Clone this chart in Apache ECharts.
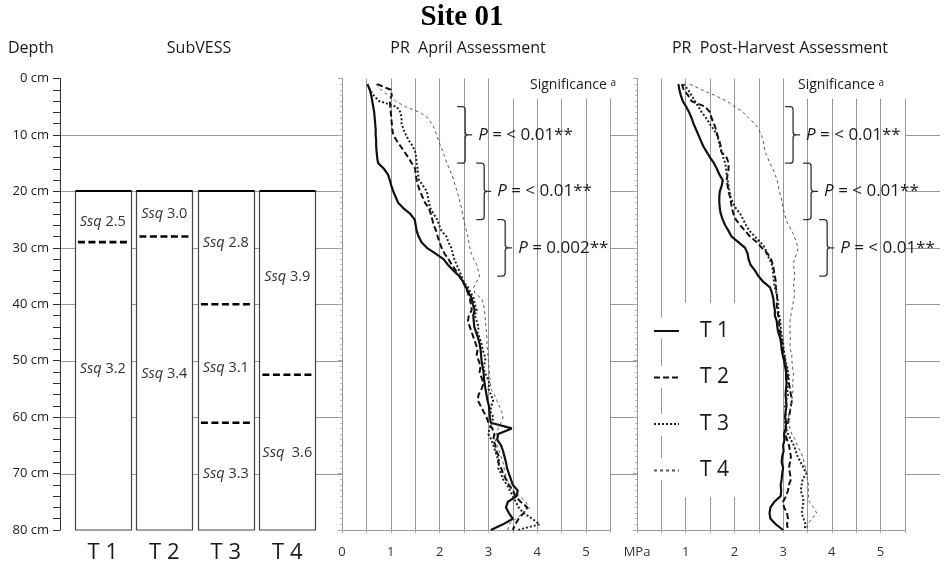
<!DOCTYPE html>
<html>
<head>
<meta charset="utf-8">
<script src="https://cdn.jsdelivr.net/npm/echarts@6/dist/echarts.min.js"></script>
<style>
  html, body { margin: 0; padding: 0; background: #fff; }
  #chart { width: 952px; height: 567px; }
</style>
</head>
<body>
<div id="chart"></div>
<script>
// ---- Depth of each penetrometer reading (cm) ----
const depthCm = [1,2,3,4,5,6,7,8,9,10,11,12,13,14,15,16,17,18,19,20,
  21,22,23,24,25,26,27,28,29,30,31,32,33,34,35,36,37,38,39,40,
  41,42,43,44,45,46,47,48,49,50,51,52,53,54,55,56,57,58,59,60,
  61,62,63,64,65,66,67,68,69,70,71,72,73,74,75,76,77,78,79,80];

// ---- Penetration resistance (MPa), April assessment ----
const aprT1 = [0.52,0.57,0.60,0.62,0.64,0.66,0.67,0.68,0.69,0.69,
  0.70,0.70,0.71,0.72,0.74,0.86,0.94,0.98,1.01,1.05,
  1.10,1.15,1.26,1.40,1.49,1.51,1.53,1.57,1.63,1.74,
  1.91,2.08,2.17,2.28,2.40,2.48,2.54,2.60,2.66,2.68,
  2.72,2.69,2.70,2.71,2.75,2.79,2.82,2.84,2.85,2.86,
  2.88,2.90,2.91,2.92,2.94,2.96,2.98,3.01,3.02,3.03,
  3.05,3.48,3.20,3.18,3.26,3.30,3.33,3.36,3.38,3.42,
  3.46,3.50,3.60,3.58,3.40,3.36,3.42,3.50,3.30,3.05];
const aprT2 = [0.72,1.00,1.02,0.98,0.99,1.00,1.01,1.02,1.03,1.05,
  1.12,1.20,1.28,1.36,1.43,1.50,1.51,1.53,1.56,1.60,
  1.65,1.70,1.78,1.82,1.85,1.88,1.93,1.96,2.00,2.04,
  2.10,2.18,2.25,2.33,2.41,2.48,2.53,2.58,2.62,2.64,
  2.66,2.60,2.58,2.62,2.66,2.70,2.74,2.78,2.76,2.80,
  2.84,2.82,2.86,2.90,2.86,2.80,2.78,2.84,2.90,2.96,
  3.00,3.08,3.12,3.10,3.14,3.16,3.22,3.20,3.26,3.30,
  3.36,3.42,3.50,3.56,3.66,3.80,3.72,3.62,3.55,3.50];
const aprT3 = [0.52,0.57,0.65,0.76,1.12,1.20,1.22,1.22,1.26,1.31,
  1.37,1.45,1.50,1.52,1.53,1.55,1.56,1.58,1.66,1.74,
  1.76,1.78,1.81,1.88,1.95,1.99,2.04,2.14,2.18,2.24,
  2.27,2.30,2.35,2.40,2.45,2.49,2.58,2.64,2.70,2.72,
  2.76,2.72,2.76,2.80,2.78,2.82,2.86,2.88,2.92,2.94,
  2.90,2.92,2.98,3.02,3.00,3.05,3.10,3.06,3.04,3.10,
  3.08,3.02,3.00,3.06,3.10,3.14,3.18,3.22,3.20,3.26,
  3.30,3.38,3.44,3.50,3.56,3.62,3.72,3.90,4.05,3.60];
const aprT4 = [0.70,0.80,0.95,1.10,1.30,1.60,1.76,1.84,1.90,1.94,
  1.98,2.02,2.07,2.11,2.15,2.20,2.25,2.29,2.32,2.36,
  2.39,2.42,2.45,2.47,2.49,2.52,2.55,2.58,2.60,2.62,
  2.65,2.70,2.76,2.79,2.82,2.76,2.70,2.72,2.86,2.90,
  2.92,2.93,2.94,2.95,2.96,2.97,2.97,2.98,2.99,3.00,
  3.01,3.02,3.03,3.04,3.05,3.12,3.17,3.22,3.27,3.30,
  3.26,3.20,3.16,3.14,3.18,3.22,3.26,3.30,3.32,3.34,
  3.38,3.44,3.52,3.64,3.76,3.84,3.72,3.56,3.42,3.40];

// ---- Penetration resistance (MPa), post-harvest assessment ----
const postT1 = [0.85,0.87,0.90,0.94,1.01,1.07,1.12,1.16,1.21,1.26,
  1.31,1.36,1.43,1.50,1.58,1.64,1.69,1.76,1.74,1.70,
  1.69,1.69,1.70,1.72,1.76,1.81,1.88,1.94,2.08,2.22,
  2.27,2.29,2.33,2.42,2.49,2.59,2.73,2.77,2.80,2.81,
  2.83,2.83,2.87,2.88,2.90,2.94,2.96,2.97,2.99,3.02,
  3.04,3.06,3.06,3.07,3.06,3.05,3.06,3.07,3.05,3.04,
  3.06,3.05,3.02,3.03,3.00,3.01,2.98,2.97,3.00,2.98,
  2.97,2.95,2.96,2.95,2.82,2.74,2.72,2.74,2.85,3.00];
const postT2 = [0.92,0.96,1.05,1.12,1.40,1.50,1.53,1.58,1.62,1.65,
  1.69,1.72,1.73,1.84,1.88,1.88,1.86,1.84,1.86,1.88,
  1.91,1.93,1.95,1.98,2.03,2.12,2.22,2.32,2.46,2.56,
  2.68,2.75,2.79,2.81,2.83,2.85,2.85,2.87,2.88,2.87,
  2.88,2.90,2.92,2.92,2.94,2.96,2.98,3.00,3.02,3.04,
  3.06,3.08,3.10,3.12,3.14,3.16,3.18,3.16,3.14,3.12,
  3.10,3.06,3.04,3.08,3.12,3.14,3.16,3.14,3.12,3.14,
  3.16,3.12,3.10,3.06,3.00,3.02,3.08,3.10,3.08,3.10];
const postT3 = [0.95,1.05,1.12,1.19,1.26,1.33,1.42,1.49,1.57,1.64,
  1.68,1.70,1.74,1.77,1.81,1.83,1.84,1.86,1.88,1.90,
  1.92,1.97,2.03,2.12,2.18,2.24,2.31,2.42,2.53,2.63,
  2.66,2.72,2.77,2.79,2.80,2.81,2.83,2.86,2.88,2.90,
  2.90,2.92,2.94,2.95,2.96,2.98,3.00,3.01,3.03,3.05,
  3.08,3.10,3.12,3.10,3.08,3.10,3.06,3.04,3.06,3.05,
  3.04,3.06,3.10,3.16,3.22,3.26,3.30,3.36,3.42,3.48,
  3.40,3.38,3.36,3.40,3.42,3.40,3.38,3.42,3.46,3.44];
const postT4 = [1.09,1.33,1.60,1.84,2.01,2.18,2.29,2.42,2.50,2.55,
  2.59,2.61,2.63,2.68,2.73,2.79,2.83,2.88,2.90,2.92,
  2.96,2.98,3.00,3.03,3.06,3.11,3.18,3.23,3.27,3.31,
  3.28,3.23,3.21,3.23,3.24,3.22,3.21,3.24,3.22,3.20,
  3.18,3.16,3.14,3.14,3.14,3.15,3.14,3.15,3.18,3.18,
  3.19,3.21,3.21,3.19,3.21,3.19,3.18,3.16,3.13,3.11,
  3.12,3.14,3.18,3.25,3.29,3.35,3.40,3.43,3.46,3.48,
  3.50,3.52,3.52,3.52,3.54,3.62,3.69,3.59,3.50,3.48];

// ---- SubVESS profile description ----
const treatments = ['T 1', 'T 2', 'T 3', 'T 4'];
const assessedFromCm = [20, 20, 20, 20];
const assessedToCm = [80, 80, 80, 80];
const layerBoundTreat = [0, 1, 2, 2, 3];
const layerBoundCm = [29, 28, 40, 61, 52.5];
const ssqTreat = [0, 0, 1, 1, 2, 2, 2, 3, 3];
const ssqAtCm = [25.4, 51.4, 24, 52.4, 29.2, 51.3, 70, 35.2, 66.3];
const ssqScore = ['2.5', '3.2', '3.0', '3.4', '2.8', '3.1', '3.3', '3.9', ' 3.6'];

// ---- Significance of treatment differences by depth band ----
const bandFromCm = [5, 15, 25];
const bandToCm = [15, 25, 35];
const aprilP = ['< 0.01**', '< 0.01**', '0.002**'];
const postP = ['< 0.01**', '< 0.01**', '< 0.01**'];

// Reference depths for horizontal guide lines
const guideDepthCm = [10, 20, 30, 40, 50, 60, 70];

const FONT = '"Open Sans", sans-serif';
const INK = '#1a1a1a';

const lineLook = {
  'T 1': { color: '#111', width: 2.2, type: 'solid' },
  'T 2': { color: '#111', width: 2, type: [6, 3] },
  'T 3': { color: '#222', width: 2, type: [2, 2] },
  'T 4': { color: '#555', width: 1, type: [3, 3] }
};

function profile(name, values, gi) {
  return {
    name, type: 'line', xAxisIndex: gi, yAxisIndex: gi, z: 4,
    symbol: 'none', silent: true, animation: false,
    lineStyle: lineLook[name], itemStyle: { color: lineLook[name].color },
    data: depthCm.map((d, i) => [values[i], d])
  };
}

// white plotting area for a PR panel, sized from its own grid
function panelBackground(gi) {
  return {
    type: 'custom', xAxisIndex: gi, yAxisIndex: gi, z: 1, silent: true,
    data: [[0, 0]],
    renderItem(params) {
      const cs = params.coordSys;
      return { type: 'rect', shape: { x: cs.x, y: cs.y, width: cs.width, height: cs.height },
               style: { fill: '#fff' } };
    }
  };
}

// curly bracket spanning a depth band, with its P-value
function significance(gi, braceAt, texts) {
  return {
    type: 'custom', xAxisIndex: gi, yAxisIndex: gi, z: 5, silent: true,
    data: bandFromCm.map((f, i) => [braceAt[i], f, bandToCm[i], i]),
    renderItem(params, api) {
      const top = api.coord([api.value(0), api.value(1)]);
      const bot = api.coord([api.value(0), api.value(2)]);
      const x0 = top[0], x1 = x0 + 8, xt = x1 + 7, r = 3;
      const yT = top[1], yB = bot[1], yM = (yT + yB) / 2;
      const d = `M${x0} ${yT}L${x1 - r} ${yT}Q${x1} ${yT} ${x1} ${yT + r}L${x1} ${yM - r}` +
                `Q${x1} ${yM} ${x1 + r} ${yM}L${xt} ${yM}M${x1 + r} ${yM}Q${x1} ${yM} ${x1} ${yM + r}` +
                `L${x1} ${yB - r}Q${x1} ${yB} ${x1 - r} ${yB}L${x0} ${yB}`;
      return {
        type: 'group', children: [
          { type: 'path', shape: { pathData: d }, style: { stroke: '#333', fill: null, lineWidth: 1.3 } },
          { type: 'text', x: xt + 6, y: yM,
            style: { text: '{p|P} = ' + texts[api.value(3)], fill: INK, fontSize: 17, fontFamily: FONT,
                     align: 'left', verticalAlign: 'middle',
                     rich: { p: { fontStyle: 'italic', fontSize: 17, fontFamily: FONT, fill: INK } } } }
        ]
      };
    }
  };
}

function panelX(gi, zeroLabel) {
  return {
    type: 'value', gridIndex: gi, min: 0, max: 5.5, interval: 0.5, position: 'bottom', z: 2,
    axisLine: { show: true, onZero: false, lineStyle: { color: '#999' } },
    axisTick: { show: true, length: 3, lineStyle: { color: '#aaa' } },
    splitLine: { show: true, lineStyle: { color: '#999', width: 1 } },
    axisLabel: { margin: 16, color: '#333', fontSize: 13, fontFamily: FONT,
      formatter: v => v === 0 ? zeroLabel : (Number.isInteger(v) && v <= 5 ? String(v) : '') }
  };
}
function panelY(gi) {
  return {
    type: 'value', gridIndex: gi, inverse: true, min: 0, max: 80, interval: 10, z: 2,
    axisLine: { show: true, onZero: false, lineStyle: { color: '#999' } },
    axisTick: { show: true, length: 4, lineStyle: { color: '#aaa' } },
    minorTick: { show: true, splitNumber: 10, length: 2, lineStyle: { color: '#bbb' } },
    axisLabel: { show: false }, splitLine: { show: false }
  };
}

const header = (text, x, align) => ({
  type: 'text', x, y: 48, z: 6,
  style: { text, fontSize: 16, fontFamily: FONT, fill: INK, align, verticalAlign: 'middle' }
});
const sigHeading = (x) => ({
  type: 'text', x, y: 85, z: 6,
  style: { text: 'Significance {s|a}', fontSize: 14, fontFamily: FONT, fill: INK, align: 'left',
           verticalAlign: 'middle', rich: { s: { fontSize: 10, fontFamily: FONT, fill: INK, verticalAlign: 'top' } } }
});
const blank = (x, y, w, h) => ({ type: 'rect', z: 3, shape: { x, y, width: w, height: h }, style: { fill: '#fff' } });

const option = {
  animation: false,
  backgroundColor: '#fff',
  grid: [
    { left: 60, top: 78.5, width: 880, height: 451.5 },      // depth scale + guide lines
    { left: 72, top: 78.5, width: 246, height: 451.5 },      // SubVESS
    { left: 342, top: 78.5, width: 268.4, height: 451.5 },   // PR April
    { left: 637, top: 78.5, width: 267.9, height: 451.5 }    // PR post-harvest
  ],
  xAxis: [
    { type: 'value', gridIndex: 0, min: 0, max: 1, show: false },
    { type: 'category', gridIndex: 1, data: treatments, position: 'bottom',
      axisLine: { show: false, onZero: false }, axisTick: { show: false },
      axisLabel: { fontSize: 22, margin: 12, color: INK, fontFamily: FONT } },
    panelX(2, '0'),
    panelX(3, 'MPa')
  ],
  yAxis: [
    { type: 'value', gridIndex: 0, inverse: true, min: 0, max: 80, interval: 10, position: 'left',
      axisLine: { show: true, onZero: false, lineStyle: { color: '#333' } },
      axisTick: { show: true, length: 7, lineStyle: { color: '#333' } },
      minorTick: { show: true, splitNumber: 5, length: 7, lineStyle: { color: '#333' } },
      axisLabel: { margin: 11, color: INK, fontSize: 13, fontFamily: FONT, formatter: '{value} cm' },
      splitLine: { show: false } },
    { type: 'value', gridIndex: 1, inverse: true, min: 0, max: 80, show: false },
    panelY(2),
    panelY(3)
  ],
  legend: {
    data: treatments, orient: 'vertical', left: 648, top: 314, z: 6,
    itemWidth: 25, itemHeight: 14, itemGap: 22.5, selectedMode: false,
    itemStyle: { opacity: 0, borderWidth: 0 },
    textStyle: { fontSize: 21, fontFamily: FONT, color: INK, lineHeight: 24, padding: [0, 0, 0, 16] }
  },
  graphic: [
    { type: 'text', x: 462, y: 18, z: 6,
      style: { text: 'Site 01', fontSize: 29, fontWeight: 'bold', fontFamily: '"Liberation Serif", serif',
               fill: '#000', align: 'center', verticalAlign: 'middle' } },
    header('Depth', 8, 'left'),
    header('SubVESS', 199, 'center'),
    header('PR  April Assessment', 468, 'center'),
    header('PR  Post-Harvest Assessment', 780, 'center'),
    blank(505, 76, 110, 23),
    blank(795, 76, 112, 23),
    sigHeading(530),
    sigHeading(798),
    blank(668, 303, 77, 194),
    blank(645, 317, 34, 22),
    blank(645, 366, 34, 22),
    blank(645, 414, 34, 22),
    blank(645, 458, 34, 22)
  ],
  series: [
    // horizontal guide lines across the whole figure
    {
      type: 'custom', xAxisIndex: 0, yAxisIndex: 0, z: 0, silent: true,
      data: guideDepthCm.map(d => [0, d]),
      renderItem(params, api) {
        const y = Math.round(api.coord([0, api.value(1)])[1]) + 0.5;
        const cs = params.coordSys;
        return { type: 'line', shape: { x1: cs.x, y1: y, x2: cs.x + cs.width, y2: y },
                 style: { stroke: '#999', lineWidth: 1 } };
      }
    },
    // SubVESS assessed columns
    {
      type: 'custom', xAxisIndex: 1, yAxisIndex: 1, z: 2, silent: true,
      data: treatments.map((t, i) => [i, assessedFromCm[i], assessedToCm[i]]),
      renderItem(params, api) {
        const a = api.coord([api.value(0), api.value(1)]);
        const b = api.coord([api.value(0), api.value(2)]);
        const w = api.size([1, 0])[0] * 0.905;
        const x = Math.round(a[0] - w / 2) + 0.5, y = Math.round(a[1]), h = Math.round(b[1]) - y;
        return { type: 'group', children: [
          { type: 'rect', shape: { x, y, width: Math.round(w), height: h },
            style: { fill: '#fff', stroke: '#444', lineWidth: 1.2 } },
          { type: 'line', shape: { x1: x, y1: y, x2: x + Math.round(w), y2: y },
            style: { stroke: '#000', lineWidth: 2.2 } }
        ] };
      }
    },
    // SubVESS layer boundaries
    {
      type: 'custom', xAxisIndex: 1, yAxisIndex: 1, z: 3, silent: true,
      data: layerBoundCm.map((d, i) => [layerBoundTreat[i], d]),
      renderItem(params, api) {
        const c = api.coord([api.value(0), api.value(1)]);
        const w = api.size([1, 0])[0] * 0.905 - 6;
        return { type: 'line', shape: { x1: c[0] - w / 2, y1: c[1], x2: c[0] + w / 2, y2: c[1] },
                 style: { stroke: '#000', lineWidth: 2.6, lineDash: [7, 3.5] } };
      }
    },
    // SubVESS layer scores
    {
      type: 'custom', xAxisIndex: 1, yAxisIndex: 1, z: 3, silent: true,
      data: ssqAtCm.map((d, i) => [ssqTreat[i], d, i]),
      renderItem(params, api) {
        const c = api.coord([api.value(0), api.value(1)]);
        return { type: 'text', x: c[0], y: c[1],
          style: { text: '{i|Ssq} ' + ssqScore[api.value(2)], fontSize: 14.5, fontFamily: FONT, fill: '#333',
                   align: 'center', verticalAlign: 'middle',
                   rich: { i: { fontStyle: 'italic', fontSize: 14.5, fontFamily: FONT, fill: '#333' } } } };
      }
    },
    panelBackground(2),
    panelBackground(3),
    profile('T 1', aprT1, 2),
    profile('T 2', aprT2, 2),
    profile('T 3', aprT3, 2),
    profile('T 4', aprT4, 2),
    profile('T 1', postT1, 3),
    profile('T 2', postT2, 3),
    profile('T 3', postT3, 3),
    profile('T 4', postT4, 3),
    significance(2, [2.36, 2.75, 3.18], aprilP),
    significance(3, [3.04, 3.41, 3.74], postP)
  ]
};

const chart = echarts.init(document.getElementById('chart'));
chart.setOption(option);
</script>
</body>
</html>
